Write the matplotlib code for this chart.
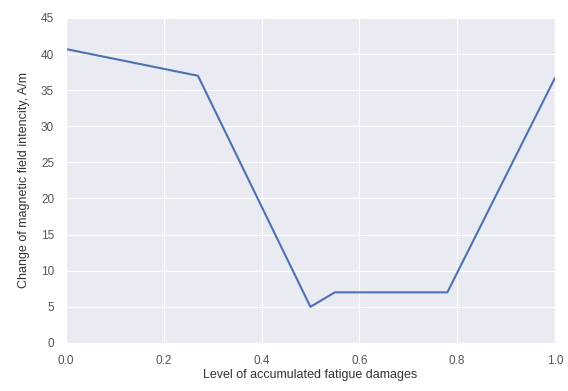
import matplotlib
matplotlib.use("Agg")
import matplotlib.pyplot as plt
import seaborn as sns

damage_level = [0.0, 0.27, 0.50, 0.55, 0.78, 1.0]
field_change = [40.7, 37.0, 5.0, 7.0, 7.0, 36.7]

sns.set_style("darkgrid")
plt.rcParams['font.family'] = ['Liberation Sans', 'DejaVu Sans']

fig = plt.figure(figsize=(5.68, 3.91), dpi=100)
ax = fig.add_axes([0.116, 0.123, 0.861, 0.831])
ax.plot(damage_level, field_change, color="#4C72B0", linewidth=1.5)
ax.set_xlim(0, 1.0)
ax.set_ylim(0, 45)
ax.set_xticks([0.0, 0.2, 0.4, 0.6, 0.8, 1.0])
ax.set_yticks(range(0, 46, 5))
ax.tick_params(labelsize=8.5, colors="#555555", pad=5)
ax.set_xlabel("Level of accumulated fatigue damages", fontsize=9, color="#333333", labelpad=2)
ax.set_ylabel("Change of magnetic field intencity, A/m", fontsize=9, color="#333333", labelpad=8)
fig.savefig("out.png", dpi=100)
